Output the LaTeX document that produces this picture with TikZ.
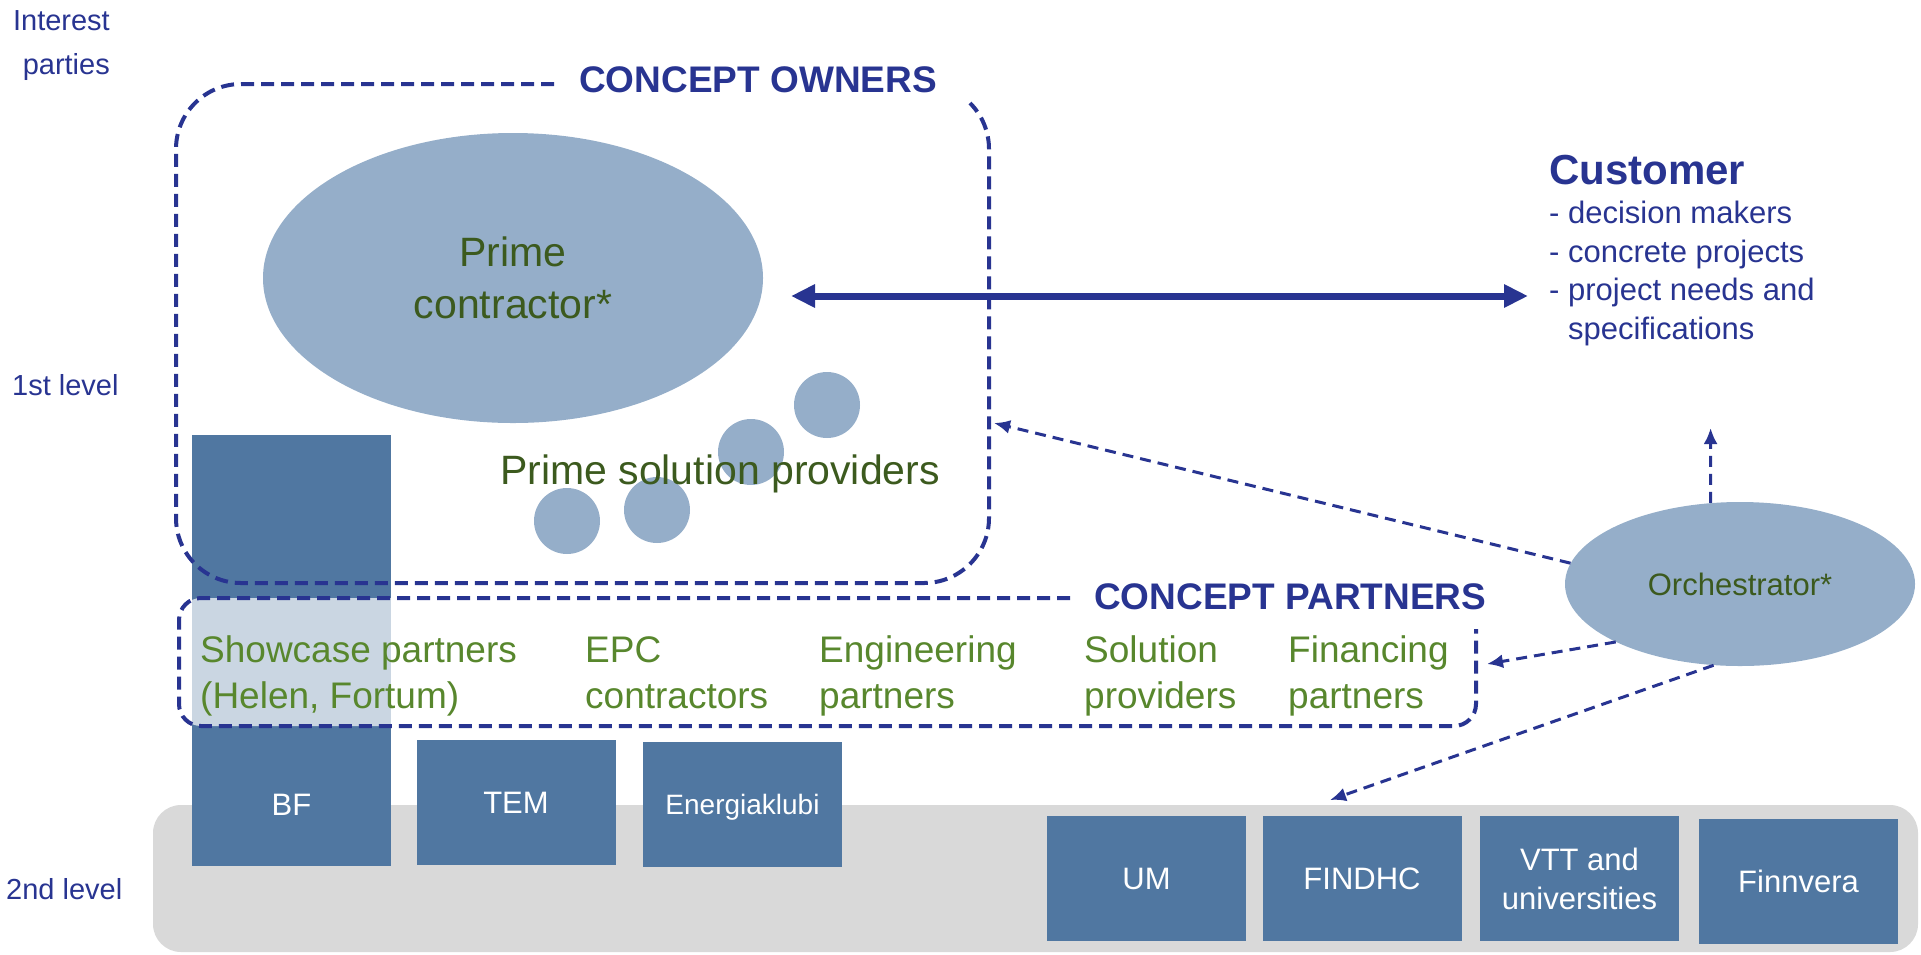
\documentclass[tikz,border=0pt]{standalone}
\usepackage{fontspec}
\setmainfont{Liberation Sans}
\usetikzlibrary{arrows.meta,shapes.geometric}
\definecolor{navy}{RGB}{40,52,145}
\definecolor{boxblue}{RGB}{80,119,161}
\definecolor{lightblue}{RGB}{149,174,201}
\definecolor{bggray}{RGB}{217,217,217}
\definecolor{darkgreen}{RGB}{60,90,30}
\definecolor{partgreen}{RGB}{88,135,45}
\begin{document}
\begin{tikzpicture}[x=1pt,y=-1pt,
  bluebox/.style={fill=boxblue, draw=none, inner sep=0pt, text=white, minimum width=199pt, minimum height=125pt, font=\fontsize{31}{39}\selectfont, align=center},
  lightell/.style={ellipse, fill=lightblue, draw=none, inner sep=0pt},
  smallc/.style={circle, fill=lightblue, draw=none, inner sep=0pt, minimum size=66pt},
  boxline/.style={draw=navy, line width=4pt, dash pattern=on 13pt off 7pt},
  thinarrow/.style={draw=navy, line width=3pt, dash pattern=on 11pt off 7pt, -{Latex[length=16pt,width=14pt]}},
  thickarrow/.style={draw=navy, line width=7pt, {Triangle[length=24pt,width=22pt]}-{Triangle[length=24pt,width=22pt]}},
  sidelabel/.style={anchor=base west, inner sep=0pt, text=navy, font=\fontsize{29}{44}\selectfont},
  partlabel/.style={anchor=base west, inner sep=0pt, align=left, text=partgreen, font=\fontsize{37}{46}\selectfont},
  grouptitle/.style={anchor=base west, inner sep=0pt, text=navy, font=\fontsize{37}{44}\selectfont\bfseries}
]
\useasboundingbox (0,0) rectangle (1921,954);

% second level background
\fill[bggray, rounded corners=28pt] (153,805) rectangle (1918,952);

% blue boxes
\node[bluebox, minimum height=431pt] (bf) at (291.5,650.5) {};
\node[inner sep=0pt, text=white, font=\fontsize{31}{39}\selectfont] (bftext) at (291.5,805) {BF};
\node[bluebox] (tem) at (516,802.5) {TEM};
\node[bluebox, font=\fontsize{28}{34}\selectfont, text depth=0pt] (energ) at (742.5,804) {Energiaklubi};
\node[bluebox] (um) at (1146.5,878.5) {UM};
\node[bluebox] (findhc) at (1362,878.5) {FINDHC};
\node[bluebox] (vtt) at (1579.5,878.5) {VTT and\\universities};
\node[bluebox] (finnvera) at (1798.5,881.5) {Finnvera};

% prime contractor
\node[lightell, minimum width=500pt, minimum height=290pt, align=center, text=darkgreen, font=\fontsize{41}{52}\selectfont] (pc) at (513,278) {Prime\\contractor*};

% small circles
\node[smallc] (c1) at (827,405) {};
\node[smallc] (c2) at (751,452) {};
\node[smallc] (c3) at (657,510) {};
\node[smallc] (c4) at (567,521) {};
\node[anchor=base, inner sep=0pt, text=darkgreen, font=\fontsize{41}{48}\selectfont] (psp) at (720,484) {Prime solution providers};

% concept owners box
\draw[boxline] (554,84) -- (241,84) arc[start angle=90, end angle=180, radius=65pt] -- (176,518) arc[start angle=180, end angle=270, radius=65pt] -- (924,583) arc[start angle=270, end angle=360, radius=65pt] -- (989,149) arc[start angle=0, end angle=45, radius=65pt];
\node[grouptitle] (owners) at (579,92) {CONCEPT OWNERS};

% concept partners box
\fill[white, fill opacity=0.7, rounded corners=22pt] (179,598) rectangle (1476,726);
\draw[boxline] (1070,598) -- (201,598) arc[start angle=90, end angle=180, radius=22pt] -- (179,704) arc[start angle=180, end angle=270, radius=22pt] -- (1454,726) arc[start angle=270, end angle=360, radius=22pt] -- (1476,629);
\node[grouptitle] (partners) at (1094,609) {CONCEPT PARTNERS};

\node[partlabel] (p1) at (200,708) {Showcase partners\\(Helen, Fortum)};
\node[partlabel] (p2) at (585,708) {EPC\\contractors};
\node[partlabel] (p3) at (819,708) {Engineering\\partners};
\node[partlabel] (p4) at (1084,708) {Solution\\providers};
\node[partlabel] (p5) at (1288,708) {Financing\\partners};

% side labels
\node[anchor=base east, inner sep=0pt, align=right, text=navy, font=\fontsize{29}{44}\selectfont] (interest) at (110,74) {Interest\\parties};
\node[sidelabel] (lvl1) at (12,395) {1st level};
\node[sidelabel] (lvl2lab) at (6,899) {2nd level};

% customer
\node[anchor=base west, inner sep=0pt, text=navy, font=\fontsize{42}{48}\selectfont\bfseries] (cust) at (1549,184) {Customer};
\node[anchor=base west, inner sep=0pt, align=left, text=navy, font=\fontsize{31}{38.5}\selectfont] (custlist) at (1549,339) {- decision makers\\- concrete projects\\- project needs and\\\hspace*{19pt}specifications};

% orchestrator
\node[lightell, minimum width=350pt, minimum height=164pt, text=darkgreen, font=\fontsize{31}{38}\selectfont] (orch) at (1740,584) {Orchestrator*};

\coordinate (ownR) at (994,423);
\coordinate (custB) at (1710.6,428);
\coordinate (partR) at (1487,664);
\coordinate (lvl2) at (1330,800);
\coordinate (pcR) at (791,296);
\coordinate (custL) at (1528,296);

\draw[thinarrow] (orch.173) -- (ownR);
\draw[thinarrow] (orch.110) -- (custB);
\draw[thinarrow] (orch.205) -- (partR);
\draw[thinarrow] (orch.252) -- (lvl2);

\draw[thickarrow] (pcR) -- (custL);
\end{tikzpicture}
\end{document}
